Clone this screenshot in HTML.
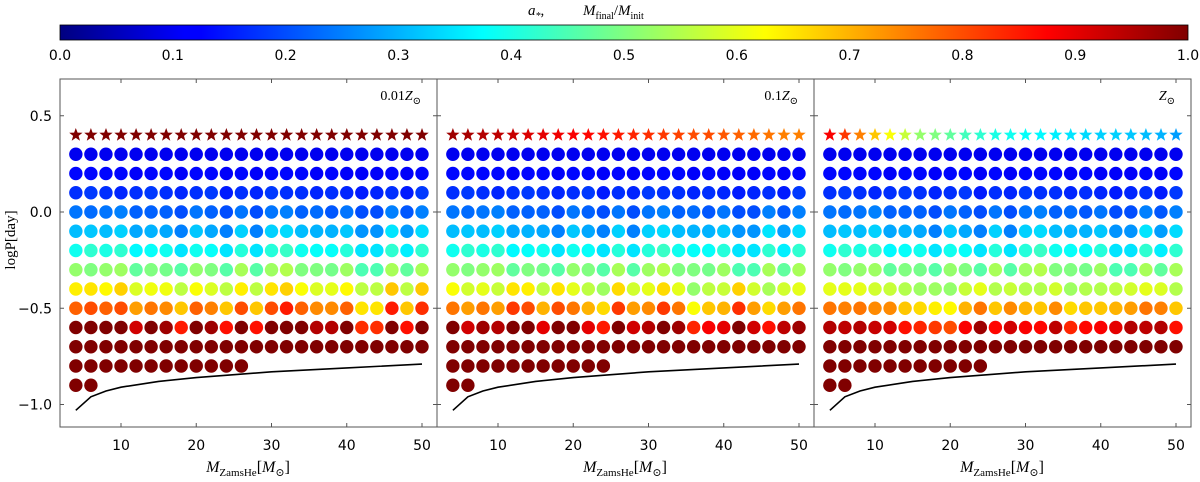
<!DOCTYPE html>
<html><head><meta charset="utf-8"><style>
body{margin:0;background:#fff;width:1200px;height:477px;overflow:hidden}
svg text{font-family:"DejaVu Sans","Liberation Sans",sans-serif}
.ser{font-family:"Liberation Serif","DejaVu Serif",serif;font-style:italic}
</style></head><body>
<svg id="chart" width="1200" height="477" xmlns="http://www.w3.org/2000/svg">
<defs><linearGradient id="jet" x1="0" x2="1" y1="0" y2="0">
<stop offset="0" stop-color="#000080"/><stop offset="0.11" stop-color="#0000ff"/><stop offset="0.125" stop-color="#0000ff"/><stop offset="0.375" stop-color="#00ffff"/><stop offset="0.625" stop-color="#ffff00"/><stop offset="0.875" stop-color="#ff0000"/><stop offset="1" stop-color="#800000"/></linearGradient></defs>
<g id="cb"></g>
<g id="panels"></g>
</svg>
<script>
const NS="http://www.w3.org/2000/svg";
const masses=[4,6,8,10,12,14,16,18,20,22,24,26,28,30,32,34,36,38,40,42,44,46,48,50];
const logPs=[0.4,0.3,0.2,0.1,0.0,-0.1,-0.2,-0.3,-0.4,-0.5,-0.6,-0.7,-0.8,-0.9];
const xTicks=[10,20,30,40,50];
const yTicks=[0.5,0.0,-0.5,-1.0];
const yTickLabels=["0.5","0.0","\u22120.5","\u22121.0"];
const cbTicks=[0,0.1,0.2,0.3,0.4,0.5,0.6,0.7,0.8,0.9,1.0];
const panelLabels=["0.01","0.1",""];
const rowCounts=[[24,24,24,24,24,24,24,24,24,24,24,24,12,2],[24,24,24,24,24,24,24,24,24,24,24,24,11,2],[24,24,24,24,24,24,24,24,24,24,24,24,11,2]];
const upper3=[0.11,0.11,0.11,0.11,0.11,0.11,0.11,0.11,0.11,0.11,0.11,0.11,0.11,0.11,0.11,0.11,0.11,0.11,0.11,0.11,0.11,0.11,0.11,0.11];
const upper2=[0.13,0.13,0.13,0.13,0.12,0.13,0.13,0.12,0.13,0.13,0.12,0.13,0.12,0.13,0.13,0.13,0.12,0.13,0.12,0.12,0.12,0.13,0.12,0.13];
const up1=[0.17,0.18,0.17,0.16,0.17,0.18,0.17,0.16,0.17,0.18,0.15,0.17,0.16,0.18,0.17,0.17,0.16,0.17,0.16,0.15,0.16,0.17,0.15,0.18];
const up0=[0.24,0.23,0.24,0.25,0.22,0.22,0.22,0.2,0.24,0.22,0.2,0.24,0.2,0.24,0.25,0.22,0.23,0.21,0.24,0.2,0.2,0.25,0.21,0.25];
const upm1=[0.31,0.32,0.31,0.33,0.29,0.3,0.29,0.25,0.32,0.29,0.25,0.33,0.25,0.33,0.34,0.31,0.3,0.3,0.32,0.27,0.27,0.35,0.28,0.34];
const upm2=[0.39,0.42,0.4,0.42,0.37,0.38,0.39,0.35,0.39,0.38,0.35,0.41,0.35,0.41,0.43,0.39,0.38,0.38,0.41,0.35,0.35,0.42,0.36,0.42];
const upm3=[0.52,0.5,0.52,0.53,0.47,0.5,0.49,0.46,0.52,0.5,0.46,0.54,0.46,0.53,0.55,0.5,0.5,0.49,0.53,0.45,0.45,0.54,0.47,0.54];
const ones=[1,1,1,1,1,1,1,1,1,1,1,1,1,1,1,1,1,1,1,1,1,1,1,1];
const stars1=ones;
const stars2=[0.97,0.96,0.95,0.94,0.93,0.91,0.9,0.89,0.88,0.87,0.86,0.85,0.84,0.83,0.82,0.81,0.8,0.8,0.79,0.78,0.77,0.76,0.75,0.75];
const stars3=[0.88,0.82,0.75,0.68,0.62,0.57,0.52,0.5,0.47,0.44,0.42,0.4,0.39,0.38,0.37,0.36,0.35,0.34,0.33,0.33,0.32,0.31,0.3,0.28];
const p1m4=[0.64,0.65,0.63,0.67,0.59,0.61,0.61,0.56,0.62,0.59,0.56,0.64,0.56,0.65,0.67,0.62,0.59,0.6,0.63,0.56,0.56,0.68,0.56,0.68];
const p1m5=[0.78,0.8,0.78,0.8,0.72,0.76,0.74,0.68,0.78,0.75,0.68,0.8,0.68,0.8,0.85,0.78,0.74,0.74,0.78,0.65,0.65,0.85,0.68,0.83];
const p1m6=[1,1,1,1,0.92,1,0.97,0.85,1,0.97,0.86,1,0.86,1,1,1,0.95,0.95,1,0.83,0.83,1,0.86,1];
const p2m4=[0.62,0.58,0.6,0.57,0.65,0.64,0.56,0.65,0.6,0.56,0.53,0.66,0.58,0.6,0.66,0.6,0.52,0.56,0.57,0.67,0.58,0.54,0.58,0.6];
const p2m5=[0.76,0.72,0.76,0.72,0.82,0.8,0.7,0.8,0.76,0.7,0.66,0.82,0.72,0.74,0.82,0.76,0.62,0.68,0.7,0.83,0.72,0.66,0.72,0.76];
const p2m6=[1,0.92,0.97,0.95,1,1,0.9,1,1,0.9,0.85,1,0.92,0.95,1,0.97,0.84,0.88,0.9,1,0.92,0.86,0.94,0.97];
const p3m4=[0.6,0.6,0.6,0.58,0.57,0.55,0.53,0.53,0.52,0.57,0.6,0.55,0.57,0.55,0.55,0.58,0.53,0.55,0.55,0.56,0.58,0.6,0.59,0.55];
const p3m5=[0.76,0.75,0.76,0.74,0.74,0.68,0.66,0.64,0.63,0.7,0.76,0.68,0.74,0.7,0.68,0.74,0.66,0.68,0.68,0.7,0.72,0.76,0.75,0.68];
const p3m6=[0.95,0.94,0.95,0.93,0.92,0.86,0.84,0.82,0.8,0.88,0.97,0.87,0.92,0.88,0.87,0.94,0.84,0.87,0.88,0.9,0.95,0.94,0.95,0.86];
const curveM=[4,6,8,10,15,20,25,30,40,50];
const curveP=[-1.03,-0.96,-0.93,-0.91,-0.88,-0.86,-0.845,-0.83,-0.81,-0.79];
const panelsData=[
 [stars1,upper3,upper2,up1,up0,upm1,upm2,upm3,p1m4,p1m5,p1m6,ones,ones,ones],
 [stars2,upper3,upper2,up1,up0,upm1,upm2,upm3,p2m4,p2m5,p2m6,ones,ones,ones],
 [stars3,upper3,upper2,up1,up0,upm1,upm2,upm3,p3m4,p3m5,p3m6,ones,ones,ones]];

function jet(v){const c=t=>Math.round(255*Math.max(0,Math.min(1,t)));
 return `rgb(${c(1.5-Math.abs(4*v-3))},${c(1.5-Math.abs(4*v-2))},${c(1.5-Math.abs(4*v-1))})`;}
function mk(tag,attrs,parent,text){const e=document.createElementNS(NS,tag);for(const k in attrs)e.setAttribute(k,attrs[k]);if(text!==undefined)e.textContent=text;parent.appendChild(e);return e;}
const PT=79,PB=427,PW=377,PX=[60,437,814];
const yS=v=>212-v*192.5;
const svg=document.getElementById('chart');
const cb=document.getElementById('cb');
const cbX0=60,cbX1=1188;
mk('rect',{x:cbX0,y:25,width:cbX1-cbX0,height:15,fill:'url(#jet)',stroke:'#000','stroke-width':0.8},cb);
cbTicks.forEach(t=>{const x=cbX0+t*(cbX1-cbX0);
 const tl=mk('text',{x:x,y:60,'text-anchor':'middle','font-size':14},cb,t.toFixed(1));
 });
const ct=mk('text',{x:528,y:15,'font-size':15,class:'ser'},cb);

ct.innerHTML='a<tspan dy="4" font-size="10">*</tspan><tspan dy="-4" font-style="normal">,</tspan><tspan x="583">M</tspan><tspan dy="4" font-size="10" font-style="normal">final</tspan><tspan dy="-4" font-style="normal">/</tspan>M<tspan dy="4" font-size="10" font-style="normal">init</tspan>';
function starPath(cx,cy,r){let d='';for(let i=0;i<10;i++){const a=-Math.PI/2+i*Math.PI/5,rr=i%2?r*0.42:r;d+=(i?'L':'M')+(cx+rr*Math.cos(a)).toFixed(1)+' '+(cy+rr*Math.sin(a)).toFixed(1);}return d+'Z';}
const panelsG=document.getElementById('panels');
PX.forEach((px,pi)=>{
 const g=mk('g',{},panelsG);
 
 const xS=m=>px+61+(m-10)*7.525;
 panelsData[pi].forEach((row,ri)=>{
  const n=rowCounts[pi][ri];
  for(let j=0;j<n;j++){
   const cx=xS(masses[j]),cy=yS(logPs[ri]),col=jet(row[j]);
   let e;
   if(ri===0){e=mk('path',{d:starPath(cx,cy,7),fill:col},g);}
   else{e=mk('circle',{cx:cx,cy:cy,r:6.7,fill:col},g);}
   
  }});
 const pts=curveM.map((m,i)=>xS(m).toFixed(1)+','+yS(curveP[i]).toFixed(1)).join(' ');
 const cl=mk('polyline',{points:pts,fill:'none',stroke:'#000','stroke-width':1.6},g);
 
 const fr=mk('rect',{x:px,y:PT,width:PW,height:PB-PT,fill:'none',stroke:'#555','stroke-width':1},g);
 
 xTicks.forEach(t=>{const x=xS(t);
  mk('line',{x1:x,x2:x,y1:PB,y2:PB-4,stroke:'#555'},g);mk('line',{x1:x,x2:x,y1:PT,y2:PT+4,stroke:'#555'},g);
  const tl=mk('text',{x:x,y:450,'text-anchor':'middle','font-size':14},g,String(t));
  });
 yTicks.forEach((t,i)=>{const y=yS(t);
  mk('line',{x1:px,x2:px+4,y1:y,y2:y,stroke:'#555'},g);mk('line',{x1:px+PW,x2:px+PW-4,y1:y,y2:y,stroke:'#555'},g);
  if(pi===0){const tl=mk('text',{x:px-8,y:y+5,'text-anchor':'end','font-size':14},g,yTickLabels[i]);
   }});
 const xt=mk('text',{x:px+188,y:472,'text-anchor':'middle','font-size':16,class:'ser'},g);
 
 xt.innerHTML='M<tspan dy="4" font-size="11" font-style="normal">ZamsHe</tspan><tspan dy="-4" font-style="normal">[</tspan>M<tspan dy="4" font-size="11" font-style="normal">⊙</tspan><tspan dy="-4" font-style="normal">]</tspan>';
 const pl=mk('text',{x:px+PW-16,y:100,'text-anchor':'end','font-size':14,class:'ser'},g);
 
 pl.innerHTML='<tspan font-style="normal">'+panelLabels[pi]+'</tspan>Z<tspan dy="4" font-size="10" font-style="normal">⊙</tspan>';
});
const yt=mk('text',{x:0,y:0,'text-anchor':'middle','font-size':15,transform:'translate(15,240) rotate(-90)',class:'ser'},svg);

yt.innerHTML='<tspan font-style="normal">logP[day]</tspan>';
</script>
</body></html>
